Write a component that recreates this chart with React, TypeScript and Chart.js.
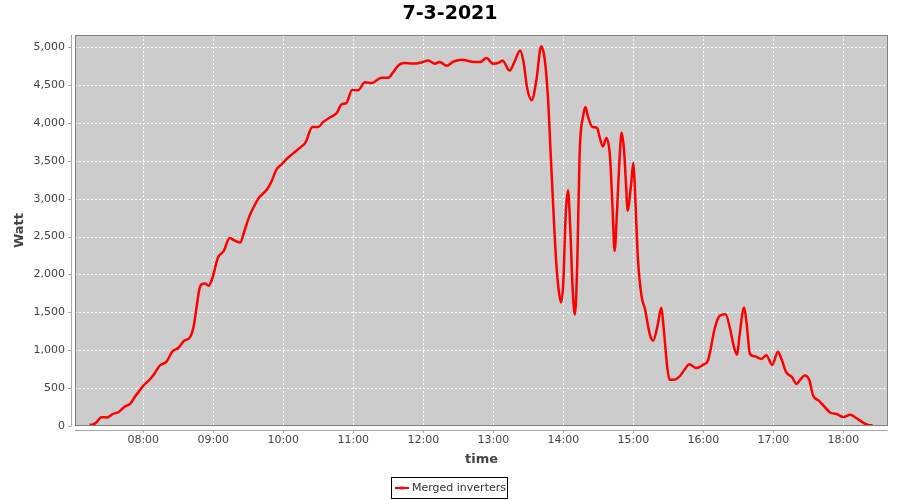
import React, { useEffect, useRef } from "react";
import { Chart, registerables } from "chart.js";

Chart.register(...registerables);

const chartTitle = "7-3-2021";
const xAxisTitle = "time";
const yAxisTitle = "Watt";
const seriesName = "Merged inverters";

const times: string[] = [
  "7:14","7:17","7:20","7:24","7:29","7:34","7:39","7:44","7:49","7:53","7:56",
  "8:00","8:06","8:10","8:14","8:20","8:25","8:30","8:35","8:40","8:43","8:46","8:48","8:50","8:53","8:56","8:59",
  "9:04","9:09","9:14","9:18","9:23","9:27","9:31","9:35","9:39","9:46","9:50","9:54","9:59",
  "10:04","10:11","10:15","10:19","10:25","10:30","10:34","10:41","10:46","10:50","10:54","10:59",
  "11:04","11:10","11:16","11:20","11:24","11:30","11:34","11:39","11:44","11:50","11:54","11:59",
  "12:04","12:10","12:14","12:20","12:26","12:33","12:38","12:43","12:49","12:54",
  "13:00","13:04","13:08","13:14","13:18","13:23","13:26","13:29","13:33","13:37","13:41","13:44","13:47","13:49","13:52","13:54","13:56","13:58",
  "14:00","14:02","14:04","14:06","14:08","14:10","14:12","14:14","14:17","14:19","14:21","14:25","14:29","14:31","14:34","14:37","14:40","14:42","14:44","14:46","14:48","14:50","14:52","14:54","14:55","14:58",
  "15:00","15:01","15:04","15:07","15:10","15:14","15:17","15:21","15:24","15:26","15:29","15:31","15:36","15:40","15:44","15:48","15:54",
  "16:00","16:04","16:10","16:14","16:19","16:23","16:26","16:29","16:31","16:35","16:37","16:40","16:44","16:50","16:54","16:59",
  "17:04","17:07","17:11","17:16","17:20","17:23","17:27","17:31","17:34","17:39","17:43","17:49","17:54",
  "18:00","18:06","18:11","18:17","18:21","18:25"
];

const watts: number[] = [
  15,20,50,115,113,160,185,255,295,390,450,
  530,620,700,795,850,985,1030,1125,1170,1300,1600,1800,1870,1880,1850,1940,
  2220,2310,2480,2450,2420,2590,2770,2900,3010,3120,3230,3380,3460,
  3540,3630,3680,3740,3945,3945,4010,4080,4135,4245,4260,4435,
  4430,4535,4527,4560,4595,4595,4665,4765,4790,4785,4785,4800,
  4825,4780,4805,4755,4810,4835,4820,4805,4805,4855,
  4780,4790,4820,4690,4800,4955,4800,4460,4300,4570,5010,4850,4300,3650,2700,2150,1800,1630,
  1895,2770,3110,2600,1810,1470,2160,3600,4090,4210,4090,3945,3935,3820,3690,3800,3560,2950,2310,2820,3470,3870,3650,3120,2840,3170,
  3470,3250,2200,1720,1545,1220,1125,1340,1565,1300,790,610,615,660,745,815,765,
  810,865,1300,1455,1475,1280,1060,940,1190,1565,1370,950,920,885,935,805,
  980,885,710,645,555,610,665,600,405,335,270,175,160,
  118,148,105,45,15,10
];

const xTickTimes: string[] = ["08:00","09:00","10:00","11:00","12:00","13:00","14:00","15:00","16:00","17:00","18:00"];
const yTickValues: number[] = [0,500,1000,1500,2000,2500,3000,3500,4000,4500,5000];

const toMin = (s: string) => {
  const [h, m] = s.split(":").map(Number);
  return h * 60 + m;
};
const fmtTime = (v: number) => {
  const h = Math.floor(v / 60);
  const m = Math.round(v - h * 60);
  return String(h).padStart(2, "0") + ":" + String(m).padStart(2, "0");
};

const X_MIN = 421.5;
const X_MAX = 1118.3;
const Y_MIN = 0;
const Y_MAX = 5160;

const TICK_FONT = '"DejaVu Sans", sans-serif';

const jfreePlugin = {
  id: "jfree",
  beforeDatasetsDraw(chart: any) {
    const { ctx, chartArea: a, scales } = chart;
    ctx.save();
    ctx.fillStyle = "#cccccc";
    ctx.fillRect(a.left, a.top, a.right - a.left, a.bottom - a.top);
    ctx.strokeStyle = "rgba(255,255,255,0.95)";
    ctx.lineWidth = 1;
    ctx.setLineDash([2, 2]);
    for (const t of xTickTimes) {
      const x = Math.round(scales.x.getPixelForValue(toMin(t))) + 0.5;
      ctx.beginPath();
      ctx.moveTo(x, a.top);
      ctx.lineTo(x, a.bottom);
      ctx.stroke();
    }
    for (const v of yTickValues) {
      const y = Math.round(scales.y.getPixelForValue(v)) + 0.5;
      ctx.beginPath();
      ctx.moveTo(a.left, y);
      ctx.lineTo(a.right, y);
      ctx.stroke();
    }
    ctx.setLineDash([]);
    // axis lines (offset from plot)
    ctx.strokeStyle = "#a8a8a8";
    ctx.beginPath();
    ctx.moveTo(a.left - 3.5, a.top);
    ctx.lineTo(a.left - 3.5, a.bottom);
    ctx.stroke();
    for (const v of yTickValues) {
      const y = Math.round(scales.y.getPixelForValue(v)) + 0.5;
      ctx.beginPath();
      ctx.moveTo(a.left - 7, y);
      ctx.lineTo(a.left - 3.5, y);
      ctx.stroke();
    }
    ctx.beginPath();
    ctx.moveTo(a.left, a.bottom + 4.5);
    ctx.lineTo(a.right, a.bottom + 4.5);
    ctx.stroke();
    for (const t of xTickTimes) {
      const x = Math.round(scales.x.getPixelForValue(toMin(t))) + 0.5;
      ctx.beginPath();
      ctx.moveTo(x, a.bottom + 4.5);
      ctx.lineTo(x, a.bottom + 7);
      ctx.stroke();
    }
    ctx.restore();
  },
  afterDatasetsDraw(chart: any) {
    const { ctx, chartArea: a } = chart;
    ctx.save();
    ctx.strokeStyle = "#808080";
    ctx.lineWidth = 1;
    ctx.strokeRect(a.left + 0.5, a.top + 0.5, a.right - a.left - 1, a.bottom - a.top - 1);
    ctx.restore();
  },
  afterDraw(chart: any) {
    const { ctx, chartArea: a } = chart;
    ctx.save();
    // title
    ctx.fillStyle = "#000000";
    ctx.font = 'bold 19px "DejaVu Sans", sans-serif';
    ctx.textAlign = "center";
    ctx.textBaseline = "middle";
    ctx.fillText(chartTitle, 450, 14);
    // axis titles
    ctx.fillStyle = "#444444";
    ctx.font = 'bold 13px "DejaVu Sans", sans-serif';
    ctx.fillText(xAxisTitle, (a.left + a.right) / 2, 460);
    ctx.save();
    ctx.translate(20, (a.top + a.bottom) / 2);
    ctx.rotate(-Math.PI / 2);
    ctx.fillText(yAxisTitle, 0, 0);
    ctx.restore();
    // legend
    ctx.strokeStyle = "#000000";
    ctx.lineWidth = 1;
    ctx.strokeRect(391.5, 477.5, 116, 21);
    ctx.strokeStyle = "#ff0000";
    ctx.lineWidth = 2;
    ctx.beginPath();
    ctx.moveTo(395, 488);
    ctx.lineTo(409, 488);
    ctx.stroke();
    ctx.fillStyle = "#ff0000";
    ctx.fillRect(400.5, 486.5, 3, 3);
    ctx.fillStyle = "#333333";
    ctx.font = '11px "DejaVu Sans", sans-serif';
    ctx.textAlign = "left";
    ctx.textBaseline = "middle";
    ctx.fillText(seriesName, 412, 488);
    ctx.restore();
  },
};

export default function App() {
  const canvasRef = useRef<HTMLCanvasElement | null>(null);

  useEffect(() => {
    if (!canvasRef.current) return;
    const data = times.map((t, i) => ({ x: toMin(t), y: watts[i] }));
    const chart = new Chart(canvasRef.current, {
      type: "line",
      data: {
        datasets: [
          {
            label: seriesName,
            data,
            borderColor: "#ff0000",
            backgroundColor: "#ff0000",
            borderWidth: 2.5,
            pointRadius: 0,
            cubicInterpolationMode: "monotone",
            fill: false,
          },
        ],
      },
      options: {
        animation: false,
        responsive: true,
        maintainAspectRatio: false,
        layout: { padding: { top: 35, right: 12, bottom: 0, left: 0 } },
        plugins: {
          legend: { display: false },
          title: { display: false },
          tooltip: { enabled: false },
        },
        scales: {
          x: {
            type: "linear",
            min: X_MIN,
            max: X_MAX,
            afterFit: (s: any) => {
              s.height = 74;
            },
            afterBuildTicks: (s: any) => {
              s.ticks = xTickTimes.map((t) => ({ value: toMin(t) }));
            },
            grid: { display: false, drawTicks: false },
            border: { display: false },
            ticks: {
              autoSkip: false,
              maxRotation: 0,
              padding: 8,
              color: "#444444",
              font: { family: TICK_FONT, size: 11 },
              callback: (v: any) => fmtTime(Number(v)),
            },
          },
          y: {
            type: "linear",
            min: Y_MIN,
            max: Y_MAX,
            afterFit: (s: any) => {
              s.width = 75;
            },
            afterBuildTicks: (s: any) => {
              s.ticks = yTickValues.map((v) => ({ value: v }));
            },
            grid: { display: false, drawTicks: false },
            border: { display: false },
            ticks: {
              autoSkip: false,
              padding: 10,
              color: "#444444",
              font: { family: TICK_FONT, size: 11 },
              callback: (v: any) => Number(v).toLocaleString("en-US"),
            },
          },
        },
      },
      plugins: [jfreePlugin],
    });
    return () => chart.destroy();
  }, []);

  return (
    <div style={{ position: "fixed", left: 0, top: 0, width: 900, height: 500, background: "#ffffff" }}>
      <canvas ref={canvasRef} />
    </div>
  );
}
